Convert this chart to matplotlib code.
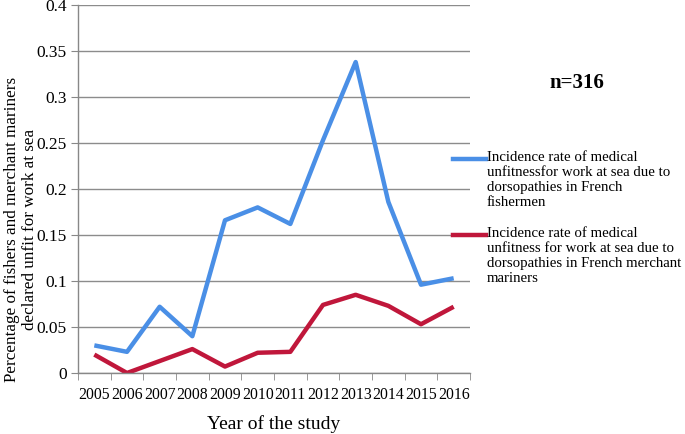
import numpy as np
import matplotlib
matplotlib.use("Agg")
import matplotlib.pyplot as plt
from matplotlib.lines import Line2D

plt.rcParams["font.family"] = ["Liberation Serif", "DejaVu Serif"]

years = ["2005", "2006", "2007", "2008", "2009", "2010", "2011",
         "2012", "2013", "2014", "2015", "2016"]
fishermen = [0.030, 0.023, 0.072, 0.040, 0.166, 0.180, 0.162,
             0.253, 0.338, 0.186, 0.096, 0.103]
merchant = [0.020, 0.000, 0.013, 0.026, 0.007, 0.022, 0.023,
            0.074, 0.085, 0.073, 0.053, 0.072]

label_fish = ("Incidence rate of medical\nunfitnessfor work at sea due to\n"
              "dorsopathies in French\nfishermen")
label_merch = ("Incidence rate of medical\nunfitness for work at sea due to\n"
               "dorsopathies in French merchant\nmariners")
colors = ["#4a8fe6", "#c0173b"]

W, H = 685, 434
fig = plt.figure(figsize=(W / 100, H / 100), dpi=100)
ax = fig.add_axes([78 / W, (H - 373) / H, (470 - 78) / W, (373 - 5) / H])

x = np.arange(len(years))
ax.plot(x, fishermen, color=colors[0], lw=3.2, solid_capstyle="butt")
ax.plot(x, merchant, color=colors[1], lw=3.2, solid_capstyle="butt")

ax.set_xlim(-0.5, len(years) - 0.5)
ax.set_ylim(0, 0.4)
ax.set_yticks(np.arange(0, 0.401, 0.05))
ax.set_yticklabels(["0", "0.05", "0.1", "0.15", "0.2", "0.25", "0.3", "0.35", "0.4"])
ax.set_xticks(x)
ax.set_xticklabels(years)
ax.set_xticks(np.arange(-0.5, len(years)), minor=True)
ax.tick_params(axis="x", which="major", length=0, labelsize=11.3, pad=10)
ax.tick_params(axis="x", which="minor", length=5, color="#888888", direction="out")
ax.tick_params(axis="y", length=5, color="#888888", labelsize=12.5, pad=3)

ax.grid(axis="y", color="#8c8c8c", lw=1)
ax.set_axisbelow(True)
for s in ["top", "right"]:
    ax.spines[s].set_visible(False)
for s in ["left", "bottom"]:
    ax.spines[s].set_color("#888888")
    ax.spines[s].set_linewidth(1)

fig.text(21 / W, 1 - 229 / H,
         "Percentage of fishers and merchant mariners\ndeclared unfit for work at sea",
         fontsize=12.3, rotation=90, ha="center", va="center", linespacing=1.2)
ax.set_xlabel("Year of the study", fontsize=14, labelpad=9)

fig.text(577 / W, 1 - 83 / H, "n=316", fontsize=15, fontweight="bold",
         ha="center", va="center")

# legend drawn in figure coordinates, handle aligned with first text line
for (ty, lab, c) in [(159, label_fish, colors[0]), (235, label_merch, colors[1])]:
    fig.add_artist(Line2D([453 / W, 486 / W], [1 - ty / H, 1 - ty / H],
                          color=c, lw=3.2, transform=fig.transFigure))
    fig.text(487 / W, 1 - (ty - 8) / H, lab, fontsize=10.7, ha="left", va="top",
             linespacing=1.2)

fig.savefig("out.png", dpi=100)
